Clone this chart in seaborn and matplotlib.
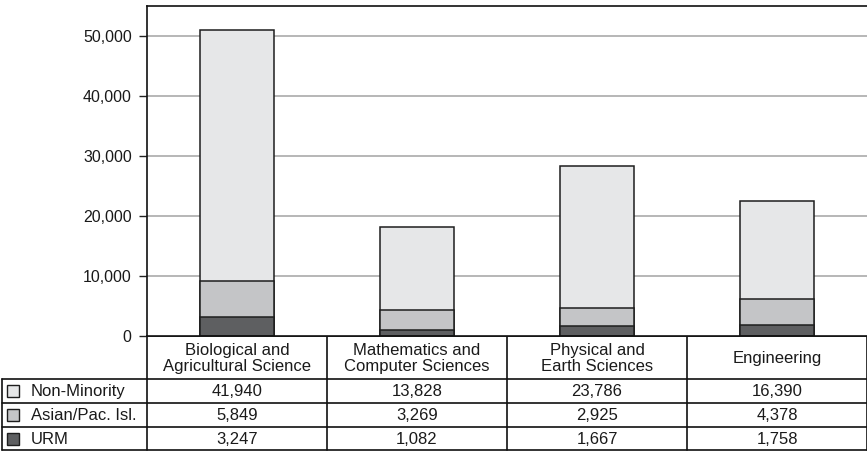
import pandas as pd
import matplotlib.pyplot as plt
import seaborn as sns
import matplotlib.patches as mpatches
from matplotlib.ticker import FuncFormatter

categorias = ['Biological and\nAgricultural Science', 'Mathematics and\nComputer Sciences',
              'Physical and\nEarth Sciences', 'Engineering']
non_minority = [41940, 13828, 23786, 16390]
asian_pac = [5849, 3269, 2925, 4378]
urm = [3247, 1082, 1667, 1758]
series_names = ['Non-Minority', 'Asian/Pac. Isl.', 'URM']
y_ticks = [0, 10000, 20000, 30000, 40000, 50000]

colors = ['#E6E7E8', '#C4C5C7', '#5E5F61']
edge = '#1E1E1E'

sns.set_style('white')
plt.rcParams['font.family'] = ['Liberation Sans', 'DejaVu Sans']

df = pd.DataFrame({'cat': categorias, 'non': non_minority, 'asian': asian_pac, 'urm': urm})
df['total'] = df['non'] + df['asian'] + df['urm']
df['low2'] = df['asian'] + df['urm']

W, H = 867, 451
fig = plt.figure(figsize=(W / 100, H / 100), dpi=100)
fig.patch.set_facecolor('white')

x0, x1, y_top, y_zero = 147, 867, 6, 336
ax = fig.add_axes([x0 / W, (H - y_zero) / H, (x1 - x0) / W, (y_zero - y_top) / H])

# Barras apiladas: total, luego las capas inferiores encima
for col, c in zip(['total', 'low2', 'urm'], colors):
    sns.barplot(data=df, x='cat', y=col, color=c, width=0.41, edgecolor=edge,
                linewidth=1.1, saturation=1, ax=ax, zorder=3)

ax.set_xlim(-0.5, 3.5)
ax.set_ylim(0, 55000)
ax.set_yticks(y_ticks)
ax.yaxis.set_major_formatter(FuncFormatter(lambda v, p: f'{int(v):,}'))
ax.tick_params(axis='y', direction='out', length=6, width=1, color='#222222',
               labelsize=11.5, labelcolor='#1A1A1A', pad=5, left=True)
ax.set_xticks([])
ax.set_xlabel('')
ax.set_ylabel('')
for v in y_ticks[1:]:
    ax.axhline(v, color='#A3A3A3', lw=1.1, zorder=1)
for s in ['left', 'top', 'bottom']:
    ax.spines[s].set_visible(True)
    ax.spines[s].set_color('#111111')
    ax.spines[s].set_linewidth(1.2)
ax.spines['right'].set_visible(False)
ax.spines['bottom'].set_zorder(5)

# Tabla de datos debajo del grafico (coordenadas en pixeles)
tab = fig.add_axes([0, 0, 1, 1], zorder=-1)
tab.set_xlim(0, W)
tab.set_ylim(H, 0)
tab.axis('off')
tab.patch.set_alpha(0)

col_w = (x1 - x0) / len(categorias)
row_y = [379, 403, 427, 450]
lc = '#111111'
fs = 12
# lineas horizontales
tab.plot([x0, x1], [y_zero, y_zero], color=lc, lw=1.2)
for y in row_y:
    tab.plot([2, x1], [y, y], color=lc, lw=1.2)
# lineas verticales
tab.plot([2, 2], [row_y[0], row_y[-1]], color=lc, lw=1.2)
for i in range(len(categorias) + 1):
    xv = x0 + col_w * i
    tab.plot([xv, xv], [y_zero, row_y[-1]], color=lc, lw=1.2)

for i, cat in enumerate(categorias):
    tab.text(x0 + col_w * (i + 0.5), (y_zero + row_y[0]) / 2 + 1, cat, ha='center',
             va='center', fontsize=fs, color='#1A1A1A', linespacing=1.05)

series_vals = [non_minority, asian_pac, urm]
for r, (name, vals, c) in enumerate(zip(series_names, series_vals, colors)):
    yc = (row_y[r] + row_y[r + 1]) / 2
    tab.add_patch(mpatches.Rectangle((7, yc - 6), 12, 12, facecolor=c, edgecolor=edge, lw=1))
    tab.text(31, yc + 0.5, name, ha='left', va='center', fontsize=fs, color='#1A1A1A')
    for i, v in enumerate(vals):
        tab.text(x0 + col_w * (i + 0.5), yc + 0.5, f'{v:,}', ha='center', va='center',
                 fontsize=fs, color='#1A1A1A')

plt.savefig('out.png', dpi=100, facecolor='white')
plt.close()
